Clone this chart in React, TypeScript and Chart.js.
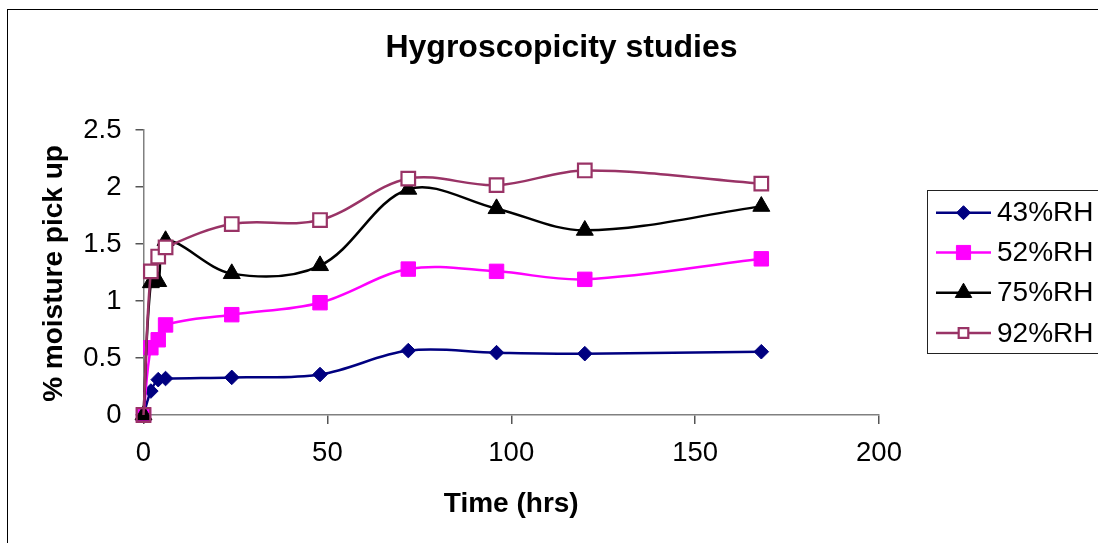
import React, { useEffect, useRef } from 'react';
import { Chart, registerables } from 'chart.js';

Chart.register(...registerables);

const TITLE = 'Hygroscopicity studies';
const X_TITLE = 'Time (hrs)';
const Y_TITLE = '% moisture pick up';

const TIME_HRS = [0, 2, 4, 6, 24, 48, 72, 96, 120, 168];
const SERIES_LABELS = ['43%RH', '52%RH', '75%RH', '92%RH'];
const RH43 = [0, 0.21, 0.31, 0.32, 0.33, 0.355, 0.565, 0.547, 0.538, 0.555];
const RH52 = [0, 0.59, 0.66, 0.79, 0.88, 0.985, 1.28, 1.26, 1.19, 1.37];
const RH75 = [0, 1.16, 1.17, 1.53, 1.24, 1.31, 1.98, 1.81, 1.62, 1.83];
const RH92 = [0, 1.26, 1.39, 1.47, 1.675, 1.71, 2.074, 2.016, 2.145, 2.03];
const SERIES_VALUES = [RH43, RH52, RH75, RH92];

const X_MIN = 0;
const X_MAX = 200;
const X_STEP = 50;
const Y_MIN = 0;
const Y_MAX = 2.5;
const Y_STEP = 0.5;
const Y_TICK_LABELS = ['0', '0.5', '1', '1.5', '2', '2.5'];

const FONT = '"Liberation Sans", Arial, Helvetica, sans-serif';

type Style = {
  line: string;
  fill: string;
  firstFill?: string;
  shape: 'rectRot' | 'rect' | 'triangle';
  radius: number;
  border: number;
  legendRadius: number;
};

const STYLES: Style[] = [
  { line: '#000080', fill: '#000080', shape: 'rectRot', radius: 7.3, border: 1, legendRadius: 7 },
  { line: '#FF00FF', fill: '#FF00FF', shape: 'rect', radius: 10.2, border: 1, legendRadius: 10 },
  { line: '#000000', fill: '#000000', shape: 'triangle', radius: 9.8, border: 1, legendRadius: 9.5 },
  { line: '#993366', fill: '#FFFFFF', firstFill: 'rgba(0,0,0,0)', shape: 'rect', radius: 9.6, border: 2.2, legendRadius: 6.8 },
];

function drawMarker(ctx: CanvasRenderingContext2D, s: Style, x: number, y: number, r: number) {
  ctx.beginPath();
  if (s.shape === 'rectRot') {
    ctx.moveTo(x - r, y);
    ctx.lineTo(x, y - r);
    ctx.lineTo(x + r, y);
    ctx.lineTo(x, y + r);
    ctx.closePath();
  } else if (s.shape === 'rect') {
    const h = Math.SQRT1_2 * r;
    ctx.rect(x - h, y - h, 2 * h, 2 * h);
  } else {
    ctx.moveTo(x, y - r);
    ctx.lineTo(x + r * Math.sin((2 * Math.PI) / 3), y - r * Math.cos((2 * Math.PI) / 3));
    ctx.lineTo(x + r * Math.sin((4 * Math.PI) / 3), y - r * Math.cos((4 * Math.PI) / 3));
    ctx.closePath();
  }
  ctx.fillStyle = s.fill;
  ctx.fill();
  ctx.lineWidth = s.border;
  ctx.strokeStyle = s.line;
  ctx.stroke();
}

const overlayPlugin = {
  id: 'overlay',
  afterDraw(chart: any) {
    const ctx: CanvasRenderingContext2D = chart.ctx;
    const area = chart.chartArea;
    ctx.save();
    ctx.fillStyle = '#000';
    ctx.textBaseline = 'alphabetic';
    ctx.textAlign = 'center';
    ctx.font = `bold 32px ${FONT}`;
    ctx.fillText(TITLE, 553.5, 47);
    ctx.font = `bold 28px ${FONT}`;
    ctx.fillText(X_TITLE, (area.left + area.right) / 2, 502);
    ctx.save();
    ctx.translate(54, (area.top + area.bottom) / 2 + 1);
    ctx.rotate(-Math.PI / 2);
    ctx.fillText(Y_TITLE, 0, 0);
    ctx.restore();

    // legend
    const boxL = 919.5;
    const boxT = 180.5;
    const boxB = 343.5;
    ctx.lineWidth = 1;
    ctx.strokeStyle = '#222';
    ctx.strokeRect(boxL, boxT, 1200 - boxL, boxB - boxT);
    const rows = [202.7, 242.5, 282.7, 323];
    ctx.font = `28px ${FONT}`;
    ctx.textAlign = 'left';
    ctx.textBaseline = 'middle';
    SERIES_LABELS.forEach((label, i) => {
      const s = STYLES[i];
      const y = rows[i];
      ctx.beginPath();
      ctx.moveTo(928, y);
      ctx.lineTo(983, y);
      ctx.lineWidth = 2.5;
      ctx.strokeStyle = s.line;
      ctx.stroke();
      drawMarker(ctx, s, 955.5, y, s.legendRadius);
      ctx.fillStyle = '#000';
      ctx.fillText(label, 989, y + 1);
    });
    ctx.restore();
  },
};

export default function App() {
  const canvasRef = useRef<HTMLCanvasElement | null>(null);

  useEffect(() => {
    const canvas = canvasRef.current;
    if (!canvas) return;
    const datasets = SERIES_LABELS.map((label, i) => {
      const s = STYLES[i];
      const vals = SERIES_VALUES[i];
      return {
        label,
        data: TIME_HRS.map((t, j) => ({ x: t, y: vals[j] })),
        borderColor: s.line,
        borderWidth: 2.5,
        backgroundColor: s.fill,
        pointStyle: s.shape,
        pointRadius: s.radius,
        pointBorderWidth: s.border,
        pointBorderColor: s.line,
        pointBackgroundColor: vals.map((_, j) => (j === 0 && s.firstFill ? s.firstFill : s.fill)),
        tension: 0.35,
        fill: false,
        clip: false as any,
        order: SERIES_LABELS.length - 1 - i,
      };
    });

    const chart = new Chart(canvas, {
      type: 'line',
      data: { datasets },
      options: {
        animation: false,
        responsive: false,
        maintainAspectRatio: false,
        events: [],
        layout: { padding: { left: 0, right: 219, top: 120, bottom: 68 } },
        plugins: {
          legend: { display: false },
          title: { display: false },
          tooltip: { enabled: false },
        },
        scales: {
          x: {
            type: 'linear',
            min: X_MIN,
            max: X_MAX,
            ticks: {
              stepSize: X_STEP,
              color: '#000',
              font: { family: FONT, size: 27.5 },
              padding: 13,
              maxRotation: 0,
            },
            grid: { drawOnChartArea: false, drawTicks: true, tickLength: 9, color: '#555', lineWidth: 1.5 },
            border: { color: '#808080', width: 1.5 },
            afterFit: (scale: any) => {
              scale.height = 60;
            },
          },
          y: {
            type: 'linear',
            min: Y_MIN,
            max: Y_MAX,
            ticks: {
              stepSize: Y_STEP,
              color: '#000',
              font: { family: FONT, size: 27.5 },
              padding: 14,
              callback: (_v: any, idx: number) => Y_TICK_LABELS[idx],
            },
            grid: { drawOnChartArea: false, drawTicks: true, tickLength: 8, color: '#555', lineWidth: 1.5 },
            border: { color: '#808080', width: 1.5 },
            afterFit: (scale: any) => {
              scale.width = 135.5;
            },
          },
        },
      },
      plugins: [overlayPlugin],
    });
    return () => chart.destroy();
  }, []);

  return (
    <div
      style={{
        position: 'fixed',
        left: 7,
        top: 9,
        width: 1091,
        height: 534,
        borderLeft: '1px solid #000',
        borderTop: '1px solid #000',
        background: '#fff',
        overflow: 'hidden',
      }}
    >
      <canvas ref={canvasRef} width={1090} height={533} style={{ display: 'block', width: 1090, height: 533 }} />
    </div>
  );
}
